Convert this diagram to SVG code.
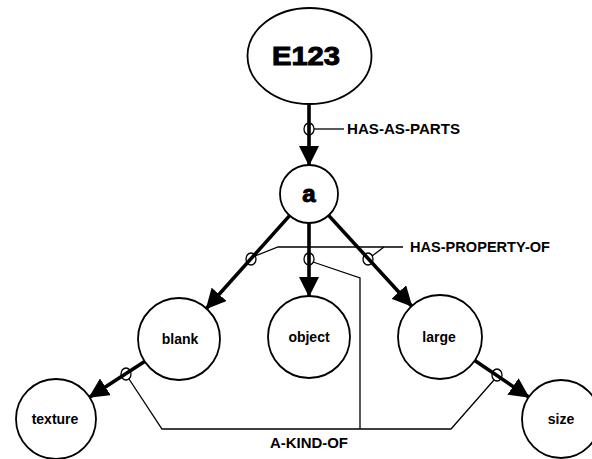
<svg xmlns="http://www.w3.org/2000/svg" width="592" height="459" viewBox="0 0 592 459">
<style>
.node{fill:#fff;stroke:#000;stroke-width:1.8}
.arrow{stroke:#000;stroke-width:3.6;fill:none;marker-end:url(#ah)}
.thin{stroke:#000;stroke-width:1.3;fill:none}
.ring{fill:none;stroke:#000;stroke-width:1.3}
.lbl{font-family:"Liberation Sans",Arial,sans-serif;font-weight:bold;font-size:14px;text-anchor:middle}
.rel{font-family:"Liberation Sans Narrow","Liberation Sans",Arial,sans-serif;font-weight:bold;font-size:15px}
.big{font-family:"Liberation Sans",Arial,sans-serif;font-weight:bold;text-anchor:middle;stroke:#000;stroke-width:1}
</style>
<defs>
<marker id="ah" markerUnits="userSpaceOnUse" viewBox="0 0 20 20" refX="19" refY="10" markerWidth="20" markerHeight="20" orient="auto">
<path d="M0,0 L20,10 L0,20 Z" fill="#000"/>
</marker>
</defs>
<rect width="592" height="459" fill="#fff"/>
<g id="connectors">
<line class="arrow" x1="309" y1="104" x2="309" y2="165"/>
<line class="arrow" x1="289.6" y1="215.6" x2="206.4" y2="308.5"/>
<line class="arrow" x1="309" y1="223" x2="309" y2="296"/>
<line class="arrow" x1="328.6" y1="215.4" x2="411.6" y2="306"/>
<line class="arrow" x1="144.6" y1="361.4" x2="89.5" y2="397.2"/>
<line class="arrow" x1="474.8" y1="360.6" x2="528.7" y2="397.1"/>
<line class="thin" x1="314" y1="129" x2="344" y2="129"/>
<polyline class="thin" points="255,256 278,247 403,247"/>
<line class="thin" x1="372" y1="256" x2="384" y2="247"/>
<polyline class="thin" points="313,262 360,278 360,429"/>
<polyline class="thin" points="129,379 162,429 451,429 494,380"/>
<ellipse class="ring" cx="309" cy="129" rx="5" ry="6"/>
<ellipse class="ring" cx="251" cy="259" rx="5" ry="6"/>
<ellipse class="ring" cx="309" cy="259" rx="5" ry="6"/>
<ellipse class="ring" cx="368" cy="259" rx="5" ry="6"/>
<ellipse class="ring" cx="126" cy="374" rx="5" ry="6"/>
<ellipse class="ring" cx="497" cy="375" rx="5" ry="6"/>
<text class="rel" x="347" y="134" textLength="113" lengthAdjust="spacingAndGlyphs">HAS-AS-PARTS</text>
<text class="rel" x="410" y="252" textLength="140" lengthAdjust="spacingAndGlyphs">HAS-PROPERTY-OF</text>
<text class="rel" x="270" y="448" textLength="78" lengthAdjust="spacingAndGlyphs">A-KIND-OF</text>
</g>
<g id="E123">
<ellipse class="node" cx="309.5" cy="56" rx="62" ry="48"/>
<text class="big" x="306" y="65" font-size="26" textLength="68" lengthAdjust="spacingAndGlyphs">E123</text>
</g>
<g id="a">
<circle class="node" cx="309" cy="194" r="29"/>
<text class="big" x="309" y="202" font-size="24">a</text>
</g>
<g id="blank">
<circle class="node" cx="179" cy="339" r="41"/>
<text class="lbl" x="180" y="344">blank</text>
</g>
<g id="object">
<circle class="node" cx="309" cy="337" r="41"/>
<text class="lbl" x="309" y="342">object</text>
</g>
<g id="large">
<circle class="node" cx="440" cy="337" r="42"/>
<text class="lbl" x="439" y="342">large</text>
</g>
<g id="texture">
<circle class="node" cx="56" cy="419" r="40"/>
<text class="lbl" x="55" y="424">texture</text>
</g>
<g id="size">
<circle class="node" cx="561" cy="419" r="39"/>
<text class="lbl" x="561" y="424">size</text>
</g>
</svg>
